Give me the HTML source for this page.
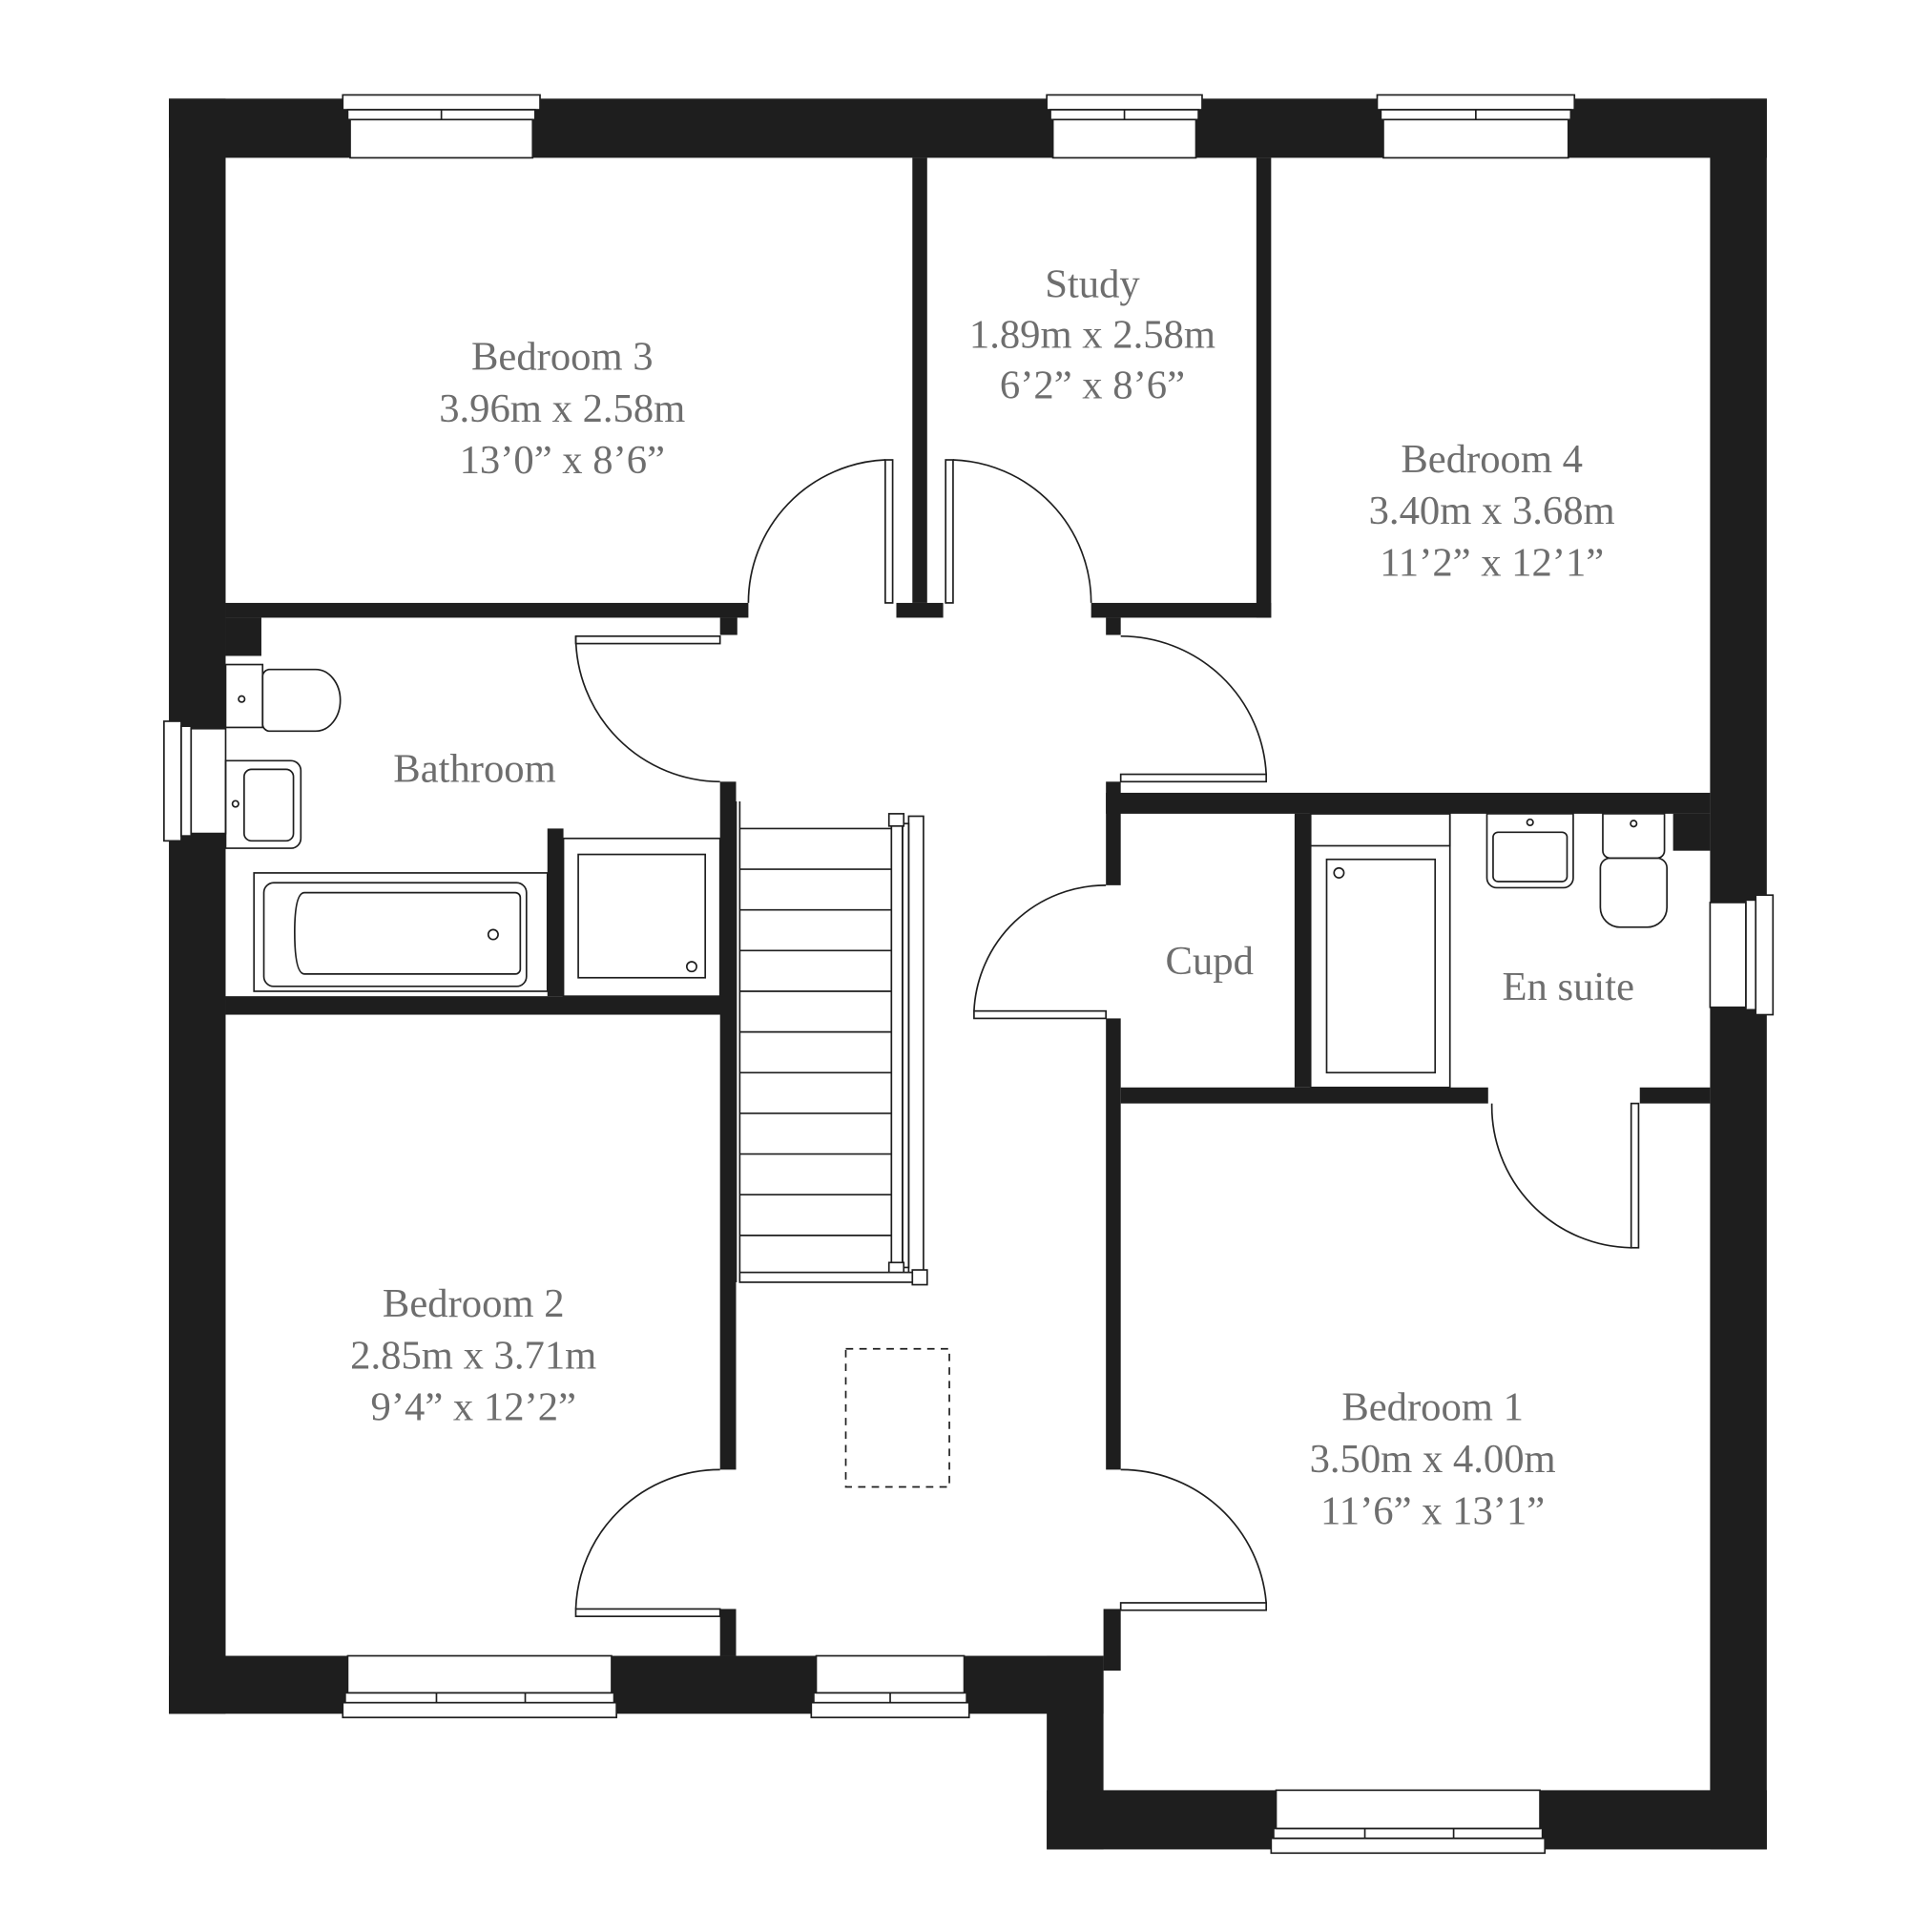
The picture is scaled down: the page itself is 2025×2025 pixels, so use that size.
<!DOCTYPE html>
<html><head><meta charset="utf-8"><style>
html,body{margin:0;padding:0;background:#fff}
svg{display:block}
text{font-family:"Liberation Serif",serif;fill:#6e6e6e;font-size:33px;text-anchor:middle}
</style></head><body>
<svg width="2025" height="2025" viewBox="0 0 1567 1567" xmlns="http://www.w3.org/2000/svg">
<g fill="#1e1e1e">
<rect x="137" y="80" width="46" height="1310"/>
<rect x="137" y="80" width="1296" height="48"/>
<rect x="1387" y="80" width="46" height="1420"/>
<rect x="849" y="1452" width="584" height="48"/>
<rect x="137" y="1343" width="758" height="47"/>
<rect x="849" y="1343" width="46" height="157"/>
<rect x="895" y="1305" width="14" height="50"/>
<rect x="183" y="489" width="424" height="12"/>
<rect x="183" y="501" width="29" height="31"/>
<rect x="584" y="501" width="14" height="14"/>
<rect x="740" y="128" width="12" height="361"/>
<rect x="727" y="489" width="38" height="12"/>
<rect x="1019" y="128" width="12" height="373"/>
<rect x="885" y="489" width="146" height="12"/>
<rect x="897" y="501" width="12" height="14"/>
<rect x="897" y="643" width="490" height="17"/>
<rect x="1357" y="660" width="30" height="30"/>
<rect x="584" y="634" width="13" height="558"/>
<rect x="584" y="1305" width="13" height="38"/>
<rect x="183" y="808" width="414" height="15"/>
<rect x="444" y="672" width="13" height="136"/>
<rect x="897" y="634" width="12" height="84"/>
<rect x="897" y="826" width="12" height="366"/>
<rect x="1050" y="660" width="13" height="222"/>
<rect x="909" y="882" width="298" height="13"/>
<rect x="1330" y="882" width="57" height="13"/>
</g>
<g fill="#fff" stroke="#1e1e1e" stroke-width="1.3">
<rect x="278" y="77" width="160" height="12"/><rect x="282" y="89" width="152" height="8"/><rect x="284" y="97" width="148" height="31"/><line x1="358" y1="89" x2="358" y2="97"/>
<rect x="849" y="77" width="126" height="12"/><rect x="852" y="89" width="120" height="8"/><rect x="854" y="97" width="116" height="31"/><line x1="912" y1="89" x2="912" y2="97"/>
<rect x="1117" y="77" width="160" height="12"/><rect x="1120" y="89" width="154" height="8"/><rect x="1122" y="97" width="150" height="31"/><line x1="1197" y1="89" x2="1197" y2="97"/>
<rect x="133" y="585" width="14" height="97"/><rect x="147" y="589" width="8" height="89"/><rect x="155" y="591" width="28" height="85"/>
<rect x="1424" y="726" width="14" height="97"/><rect x="1416" y="730" width="8" height="89"/><rect x="1387" y="732" width="29" height="85"/>
<rect x="278" y="1381" width="222" height="12"/><rect x="280" y="1373" width="218" height="8"/><rect x="282" y="1343" width="214" height="30"/><line x1="354" y1="1373" x2="354" y2="1381"/><line x1="426" y1="1373" x2="426" y2="1381"/>
<rect x="658" y="1381" width="128" height="12"/><rect x="660" y="1373" width="124" height="8"/><rect x="662" y="1343" width="120" height="30"/><line x1="722" y1="1373" x2="722" y2="1381"/>
<rect x="1031" y="1491" width="222" height="12"/><rect x="1033" y="1483" width="218" height="8"/><rect x="1035" y="1452" width="214" height="31"/><line x1="1107" y1="1483" x2="1107" y2="1491"/><line x1="1179" y1="1483" x2="1179" y2="1491"/>
</g>
<g fill="none" stroke="#1e1e1e" stroke-width="1.3">
<rect x="718" y="373" width="6" height="116" fill="#fff"/><path d="M718 373 A116 116 0 0 0 607 489"/>
<rect x="767" y="373" width="6" height="116" fill="#fff"/><path d="M773 373 A116 116 0 0 1 885 489"/>
<rect x="909" y="628" width="118" height="6" fill="#fff"/><path d="M1027 628 A118 118 0 0 0 909 516"/>
<rect x="467" y="516" width="117" height="6" fill="#fff"/><path d="M467 516 A118 118 0 0 0 584 634"/>
<rect x="790" y="820" width="107" height="6" fill="#fff"/><path d="M790 820 A107 107 0 0 1 897 718"/>
<rect x="467" y="1305" width="117" height="6" fill="#fff"/><path d="M467 1305 A117 117 0 0 1 584 1192"/>
<rect x="909" y="1300" width="118" height="6" fill="#fff"/><path d="M1027 1300 A118 118 0 0 0 909 1192"/>
<rect x="1323" y="895" width="6" height="117" fill="#fff"/><path d="M1323 1012 A115 115 0 0 1 1210 895"/>
<line x1="597" y1="650" x2="597" y2="1040"/><line x1="600" y1="650" x2="600" y2="1040"/>
<g>
<line x1="600" y1="672" x2="723" y2="672"/><line x1="600" y1="705" x2="723" y2="705"/><line x1="600" y1="738" x2="723" y2="738"/><line x1="600" y1="771" x2="723" y2="771"/><line x1="600" y1="804" x2="723" y2="804"/><line x1="600" y1="837" x2="723" y2="837"/><line x1="600" y1="870" x2="723" y2="870"/><line x1="600" y1="903" x2="723" y2="903"/><line x1="600" y1="936" x2="723" y2="936"/><line x1="600" y1="969" x2="723" y2="969"/><line x1="600" y1="1002" x2="723" y2="1002"/>
</g>
<rect x="723" y="668" width="9" height="360"/><rect x="732" y="668" width="5" height="360"/><rect x="737" y="662" width="12" height="372"/>
<rect x="721" y="660" width="12" height="10" fill="#fff"/><rect x="721" y="1024" width="12" height="10" fill="#fff"/>
<rect x="600" y="1032" width="150" height="8" fill="#fff"/><rect x="740" y="1030" width="12" height="12" fill="#fff"/>
<rect x="686" y="1094" width="84" height="112" stroke-dasharray="6 5"/>
<rect x="206" y="708" width="238" height="96"/><rect x="214" y="716" width="213" height="84" rx="8"/><path d="M247 724 H418 a4 4 0 0 1 4 4 V786 a4 4 0 0 1 -4 4 H247 q-8 0 -8 -34 q0 -32 8 -32z"/>
<circle cx="400" cy="758" r="4"/>
<rect x="457" y="680" width="127" height="128"/><rect x="469" y="693" width="103" height="100"/><circle cx="561" cy="784" r="4"/>
<rect x="183" y="539" width="30" height="51"/><path d="M218 543 H256 a20 25 0 0 1 0 50 H218 a6 6 0 0 1 -5 -5 V548 a6 6 0 0 1 5 -5z"/><circle cx="196" cy="567" r="2.5"/>
<path d="M183 617 H236 a8 8 0 0 1 8 8 V680 a8 8 0 0 1 -8 8 H183z"/><rect x="198" y="624" width="40" height="58" rx="6"/><circle cx="191" cy="652" r="2.5"/>
<rect x="1063" y="660" width="113" height="222"/><rect x="1063" y="660" width="113" height="26"/><rect x="1076" y="697" width="88" height="173"/><circle cx="1086" cy="708" r="4"/>
<path d="M1206 660 H1276 V712 a8 8 0 0 1 -8 8 H1214 a8 8 0 0 1 -8 -8z"/><rect x="1211" y="675" width="60" height="40" rx="4"/><circle cx="1241" cy="667" r="2.5"/>
<path d="M1300 660 H1350 V690 a6 6 0 0 1 -6 6 H1306 a6 6 0 0 1 -6 -6z"/><path d="M1306 696 H1344 a8 8 0 0 1 8 8 V736 a16 16 0 0 1 -16 16 H1314 a16 16 0 0 1 -16 -16 V704 a8 8 0 0 1 8 -8z"/><circle cx="1325" cy="668" r="2.5"/>
</g>
<text x="456" y="300">Bedroom 3</text><text x="456" y="342">3.96m x 2.58m</text><text x="456" y="384">13’0” x 8’6”</text>
<text x="886" y="241">Study</text><text x="886" y="282">1.89m x 2.58m</text><text x="886" y="323">6’2” x 8’6”</text>
<text x="1210" y="383">Bedroom 4</text><text x="1210" y="425">3.40m x 3.68m</text><text x="1210" y="467">11’2” x 12’1”</text>
<text x="385" y="634">Bathroom</text>
<text x="981" y="790">Cupd</text>
<text x="1272" y="811">En suite</text>
<text x="384" y="1068">Bedroom 2</text><text x="384" y="1110">2.85m x 3.71m</text><text x="384" y="1152">9’4” x 12’2”</text>
<text x="1162" y="1152">Bedroom 1</text><text x="1162" y="1194">3.50m x 4.00m</text><text x="1162" y="1236">11’6” x 13’1”</text>
</svg>
</body></html>
